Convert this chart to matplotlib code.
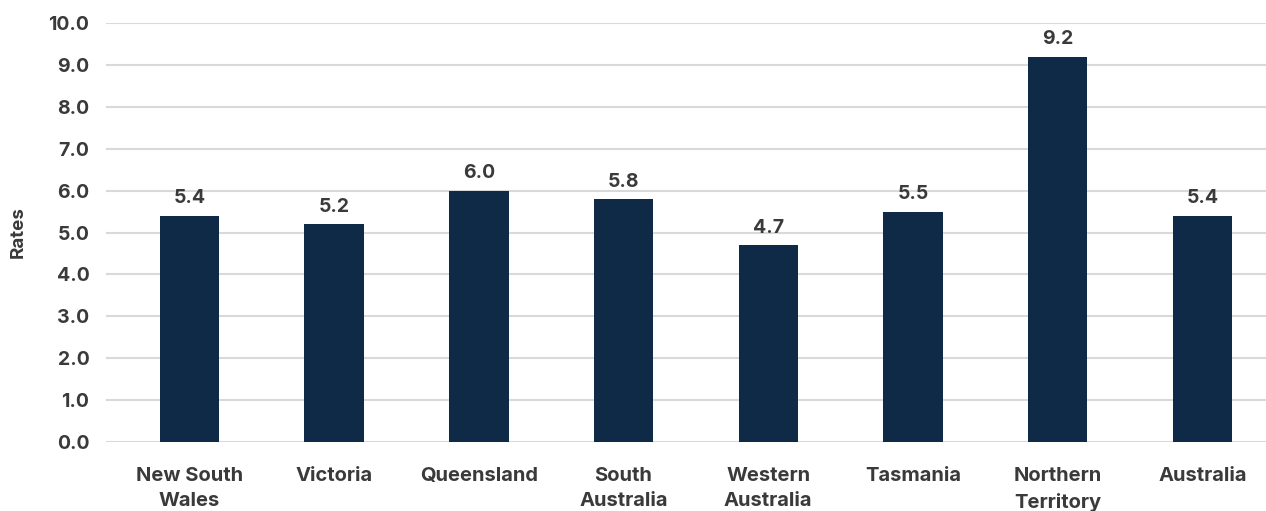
import matplotlib.pyplot as plt

# Дані
states = ["New South\nWales", "Victoria", "Queensland", "South\nAustralia",
          "Western\nAustralia", "Tasmania", "Northern\nTerritory", "Australia"]
rates = [5.4, 5.2, 6.0, 5.8, 4.7, 5.5, 9.2, 5.4]
yticks = [0, 1, 2, 3, 4, 5, 6, 7, 8, 9, 10]

plt.rcParams['font.family'] = ['Inter', 'DejaVu Sans']
text_color = '#3a3a3a'
bar_color = '#0f2a47'

fig = plt.figure(figsize=(12.66, 5.11), dpi=100)
ax = fig.add_axes([0.0837, 0.135, 0.9163, 0.82])

x = list(range(len(states)))
ax.bar(x, rates, width=0.41, color=bar_color, zorder=3)

# Підписи значень над стовпчиками
for xi, v in zip(x, rates):
    ax.text(xi, v + 0.2, f"{v:.1f}", ha='center', va='bottom',
            fontsize=14, fontweight='bold', color=text_color)

ax.set_ylim(0, 10)
ax.set_xlim(-0.577, 7.44)
ax.set_yticks(yticks)
ax.set_yticklabels([f"{t:.1f}" for t in yticks])
ax.set_xticks(x)
ax.set_xticklabels(states)
ax.yaxis.grid(True, color='#d9d9d9', linewidth=1.5, zorder=0)
ax.set_axisbelow(True)

for s in ax.spines.values():
    s.set_visible(False)
ax.tick_params(axis='y', length=0, labelsize=14, labelcolor=text_color, pad=12)
ax.tick_params(axis='x', length=0, labelsize=14.5, labelcolor=text_color, pad=18)
for lbl in ax.get_xticklabels() + ax.get_yticklabels():
    lbl.set_fontweight('bold')
    lbl.set_linespacing(1.5)

ax.set_ylabel('Rates', fontsize=13.5, fontweight='bold', color=text_color)
ax.yaxis.set_label_coords(-0.068, 0.5)

fig.savefig('out.png', dpi=100)
